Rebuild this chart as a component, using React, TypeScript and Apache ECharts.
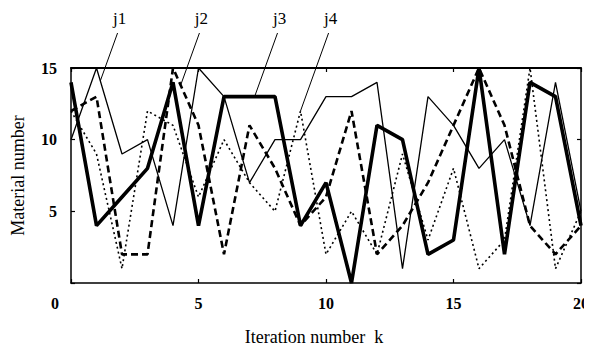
import React, { useEffect, useRef } from 'react';
import * as echarts from 'echarts';

const iterations = [0, 1, 2, 3, 4, 5, 6, 7, 8, 9, 10, 11, 12, 13, 14, 15, 16, 17, 18, 19, 20];
const j1 = [10, 15, 9, 10, 4, 15, 13, 7, 10, 10, 13, 13, 14, 1, 13, 11, 8, 10, 4, 14, 5];
const j2 = [12, 13, 2, 2, 15, 11, 2, 11, 8, 4, 6, 12, 2, 4, 7, 11, 15, 11, 4, 2, 4];
const j3 = [14, 4, 6, 8, 14, 4, 13, 13, 13, 4, 7, 0, 11, 10, 2, 3, 15, 2, 14, 13, 4];
const j4 = [12, 9, 1, 12, 11, 6, 10, 7, 5, 12, 2, 5, 2, 9, 3, 8, 1, 3, 15, 1, 5];
const seriesNames = ['j1', 'j2', 'j3', 'j4'];
const xTickValues = [0, 5, 10, 15, 20];
const yTickValues = [0, 5, 10, 15];
const leaderAtK = [1.15, 4.3, 7.2, 9.0];
const xTitle = 'Iteration number  k';
const yTitle = 'Material number';

const FONT = '"Liberation Serif", "Times New Roman", serif';

function interp(arr: number[], k: number) {
  const i = Math.floor(k);
  const f = k - i;
  if (i >= arr.length - 1) return arr[arr.length - 1];
  return arr[i] + (arr[i + 1] - arr[i]) * f;
}

export default function App() {
  const ref = useRef<HTMLDivElement>(null);
  useEffect(() => {
    const chart = echarts.init(ref.current!, null, { renderer: 'svg' });
    const all = [j1, j2, j3, j4];
    const styles: any[] = [
      { width: 1.3, type: 'solid' },
      { width: 2.6, type: [7, 4] },
      { width: 3.6, type: 'solid' },
      { width: 1.6, type: [2, 3] },
    ];
    const xMin = xTickValues[0];
    const xMax = xTickValues[xTickValues.length - 1];
    const yMin = yTickValues[0];
    const yMax = yTickValues[yTickValues.length - 1];
    const xInt = xTickValues[1] - xTickValues[0];
    const yInt = yTickValues[1] - yTickValues[0];
    const tickStyle = { color: '#000', width: 1.2 };
    chart.setOption({
      animation: false,
      grid: { left: 71, right: 2, top: 68, bottom: 73, show: false },
      xAxis: [
        {
          type: 'value', min: xMin, max: xMax, interval: xInt,
          axisLine: { show: true, onZero: false, lineStyle: { color: '#000', width: 1.5 } },
          axisTick: { show: true, inside: true, length: 4, lineStyle: tickStyle },
          splitLine: { show: false },
          axisLabel: {
            color: '#000', fontFamily: FONT, fontSize: 16, fontWeight: 'bold', margin: 12,
            formatter: (v: number) => (v === xMin ? '{z|' + v + '}' : '' + v),
            rich: { z: { fontFamily: FONT, fontSize: 16, fontWeight: 'bold', color: '#000', padding: [0, 32, 0, 0] } },
          },
        },
        {
          type: 'value', position: 'top', min: xMin, max: xMax, interval: xInt,
          axisLine: { show: true, onZero: false, lineStyle: { color: '#000', width: 2 } },
          axisTick: { show: true, inside: true, length: 4, lineStyle: tickStyle },
          axisLabel: { show: false }, splitLine: { show: false },
        },
      ],
      yAxis: [
        {
          type: 'value', min: yMin, max: yMax, interval: yInt,
          axisLine: { show: true, onZero: false, lineStyle: { color: '#000', width: 1.5 } },
          axisTick: { show: true, inside: true, length: 4, lineStyle: tickStyle },
          splitLine: { show: false },
          axisLabel: {
            color: '#000', fontFamily: FONT, fontSize: 16, fontWeight: 'bold', margin: 14,
            formatter: (v: number) => (v === yMin ? '' : '' + v),
          },
          name: yTitle, nameLocation: 'middle', nameRotate: 90, nameGap: 44,
          nameTextStyle: { color: '#000', fontFamily: FONT, fontSize: 18 },
        },
        {
          type: 'value', position: 'right', min: yMin, max: yMax, interval: yInt,
          axisLine: { show: true, onZero: false, lineStyle: { color: '#000', width: 1.5 } },
          axisTick: { show: true, inside: true, length: 4, lineStyle: tickStyle },
          axisLabel: { show: false }, splitLine: { show: false },
        },
      ],
      series: all.map((d, i) => ({
        type: 'line', name: seriesNames[i],
        data: iterations.map((k, idx) => [k, d[idx]]),
        symbol: 'none', silent: true, clip: false,
        lineStyle: { color: '#000', width: styles[i].width, type: styles[i].type },
        z: 2 + i,
      })),
    });

    const graphics: any[] = [];
    const textTop = 33;
    all.forEach((d, i) => {
      const k = leaderAtK[i];
      const p = chart.convertToPixel({ gridIndex: 0 }, [k, interp(d, k)]) as number[];
      const topX = p[0] + 0.36 * (p[1] - textTop);
      graphics.push({
        type: 'line', silent: true,
        shape: { x1: p[0], y1: p[1], x2: topX, y2: textTop },
        style: { stroke: '#000', lineWidth: 1 },
      });
      graphics.push({
        type: 'text', silent: true, x: topX + 2, y: 18,
        style: { text: seriesNames[i], fill: '#000', font: '17px ' + FONT, align: 'center', verticalAlign: 'middle' },
      });
    });
    const c0 = chart.convertToPixel({ gridIndex: 0 }, [xMin, yMin]) as number[];
    graphics.push({
      type: 'text', silent: true, x: 314, y: c0[1] + 54,
      style: { text: xTitle, fill: '#000', font: '18px ' + FONT, align: 'center', verticalAlign: 'middle' },
    });
    chart.setOption({ graphic: graphics });

    return () => chart.dispose();
  }, []);
  return <div ref={ref} style={{ width: 592, height: 356, margin: -8 }} />;
}
